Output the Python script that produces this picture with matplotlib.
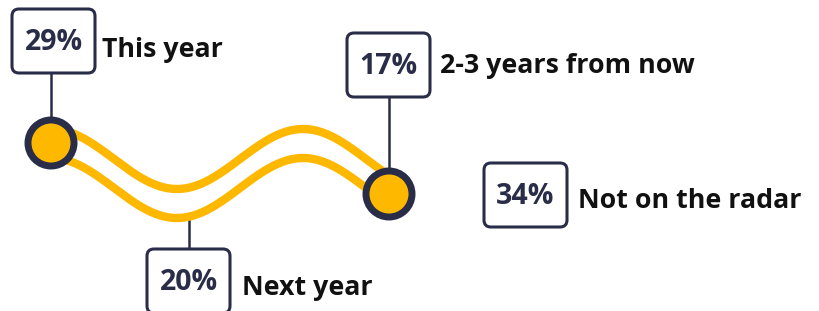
import matplotlib.pyplot as plt
import numpy as np
from matplotlib.patches import FancyBboxPatch, Circle

plt.rcParams['font.family'] = ['Open Sans', 'DejaVu Sans']

# data
pcts = [29, 20, 17, 34]
labels = ["This year", "Next year", "2-3 years from now", "Not on the radar"]

# layout (pixel coords, y down)
box_xy = [(12, 9), (147, 249), (347, 33), (484, 163)]
box_w, box_h = 83, 64
label_x = [102, 242, 440, 578]
label_y = [57, 295, 73, 208]

navy = "#2a2d48"
yellow = "#ffb800"

fig = plt.figure(figsize=(8.19, 3.11), dpi=100)
ax = fig.add_axes([0, 0, 1, 1])
ax.set_xlim(0, 819)
ax.set_ylim(311, 0)
ax.axis("off")

# ribbon
x = np.linspace(51, 389, 400)
wave = -30 * np.cos(np.pi * (x - 51) / 126)
ax.plot(x, 159 + wave, color=yellow, lw=6, solid_capstyle="butt", zorder=2)
ax.plot(x, 188 + wave, color=yellow, lw=6, solid_capstyle="butt", zorder=2)

# connectors
ax.plot([51, 51], [73, 130], color=navy, lw=1.8, zorder=1)
ax.plot([389, 389], [97, 180], color=navy, lw=1.8, zorder=1)
ax.plot([189, 189], [216, 249], color=navy, lw=1.8, zorder=1)

for cx, cy in [(51, 143), (389, 194)]:
    ax.add_patch(Circle((cx, cy), 23, facecolor=yellow, edgecolor=navy,
                        lw=5, zorder=3))

for i in range(len(pcts)):
    bx, by = box_xy[i]
    ax.add_patch(FancyBboxPatch((bx, by), box_w, box_h,
                                boxstyle="round,pad=0,rounding_size=7",
                                facecolor="white", edgecolor=navy, lw=2.2,
                                zorder=4))
    ax.text(bx + box_w / 2, by + box_h / 2 + 1, "{}%".format(pcts[i]),
            ha="center", va="center", fontsize=20.5, fontweight="bold",
            color=navy, zorder=5)
    ax.text(label_x[i], label_y[i], labels[i], ha="left", va="baseline",
            fontsize=19.3, fontweight="bold", color="#111111", zorder=5)

fig.savefig("out.png", dpi=100)
